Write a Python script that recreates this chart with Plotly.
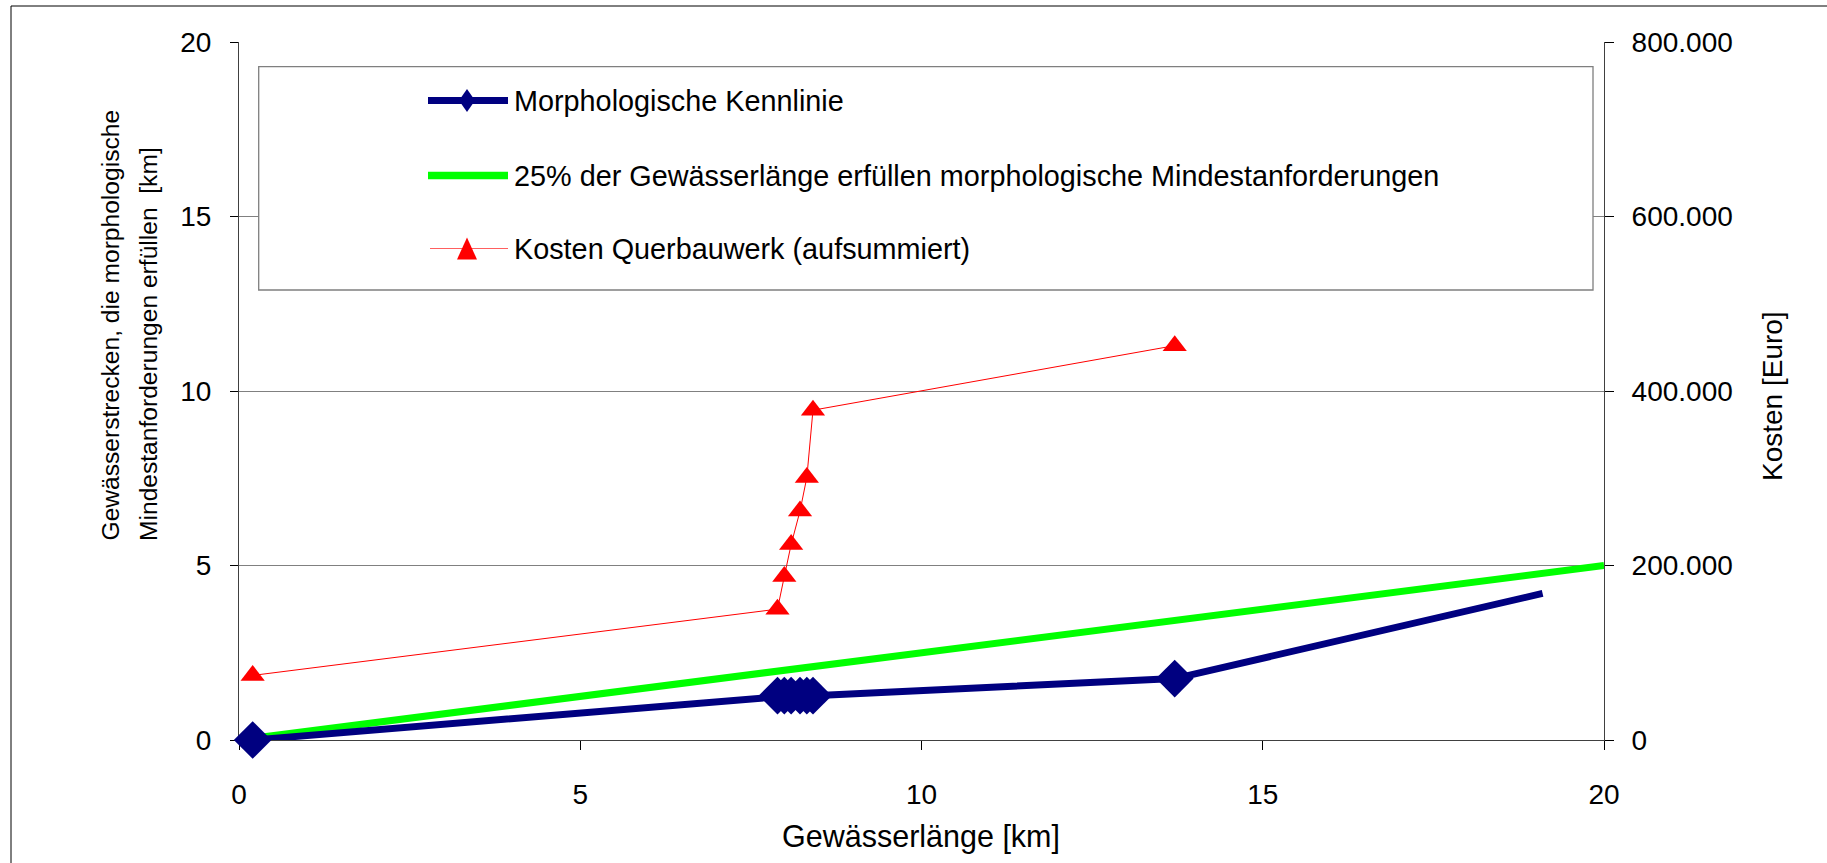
import plotly.graph_objects as go

# Figure geometry (pixels)
W, H = 1827, 863
ML, MR, MT, MB = 239, 223, 42, 123
PW = W - ML - MR
PH = H - MT - MB


def px(x):
    """pixel column -> paper x"""
    return (x - ML) / PW


def py(y):
    """pixel row -> paper y"""
    return (H - MB - y) / PH


# ---- data ----
laenge_km = [0.2, 7.89, 7.99, 8.09, 8.22, 8.32, 8.41, 13.71, 19.1]
kennlinie_km = [0.0, 1.27, 1.27, 1.27, 1.27, 1.27, 1.27, 1.76, 4.2]

ziel_laenge_km = [0.2, 20.0]
ziel_km = [0.05, 5.0]

kosten_laenge_km = [0.2, 7.89, 7.99, 8.09, 8.22, 8.32, 8.41, 13.71]
kosten_euro = [74000, 150000, 187500, 224000, 262500, 301000, 378000, 452000]

x_ticks = [0, 5, 10, 15, 20]
y_ticks = [0, 5, 10, 15, 20]
kosten_ticks = [0, 200000, 400000, 600000, 800000]
kosten_tick_labels = ["0", "200.000", "400.000", "600.000", "800.000"]

series_names = [
    "Morphologische Kennlinie",
    "25% der Gewässerlänge erfüllen morphologische Mindestanforderungen",
    "Kosten Querbauwerk (aufsummiert)",
]

NAVY = "#000080"
GREEN = "#00FF00"
RED = "#FF0000"
FONT = "Liberation Sans, Arial, sans-serif"

fig = go.Figure()

fig.add_trace(go.Scatter(
    x=ziel_laenge_km, y=ziel_km, mode="lines", name=series_names[1],
    line=dict(color=GREEN, width=7), cliponaxis=False, showlegend=False,
))

# last point of the characteristic line carries no marker
kennlinie_sizes = [29] * (len(laenge_km) - 1) + [0]
fig.add_trace(go.Scatter(
    x=laenge_km, y=kennlinie_km, mode="lines+markers", name=series_names[0],
    line=dict(color=NAVY, width=7),
    marker=dict(symbol="diamond", size=kennlinie_sizes, color=NAVY, opacity=1,
                line=dict(width=0, color=NAVY)),
    cliponaxis=False, showlegend=False,
))

fig.add_trace(go.Scatter(
    x=kosten_laenge_km, y=kosten_euro, mode="lines+markers", name=series_names[2],
    yaxis="y2", line=dict(color=RED, width=1),
    marker=dict(symbol="triangle-up", size=21, color=RED, opacity=1,
                line=dict(width=0, color=RED)),
    cliponaxis=False, showlegend=False,
))

axis_common = dict(
    ticks="outside", tickcolor="#000000", tickwidth=1,
    showline=True, linecolor="#404040", linewidth=1,
    zeroline=False, layer="below traces",
    tickfont=dict(family=FONT, size=28, color="#000000"),
)

fig.update_layout(
    width=W, height=H,
    margin=dict(l=ML, r=MR, t=MT, b=MB, pad=0),
    paper_bgcolor="white", plot_bgcolor="white",
    font=dict(family=FONT, color="#000000"),
    xaxis=dict(range=[0, 20], tickvals=x_ticks, ticklen=9, showgrid=False,
               ticklabelstandoff=20, **axis_common),
    yaxis=dict(range=[0, 20], tickvals=y_ticks, ticklen=8, showgrid=True,
               gridcolor="#808080", gridwidth=1, ticklabelstandoff=13,
               **axis_common),
    yaxis2=dict(range=[0, 800000], tickvals=kosten_ticks, ticktext=kosten_tick_labels,
                overlaying="y", side="right", ticklen=9, showgrid=False,
                ticklabelstandoff=12, **axis_common),
    showlegend=False,
)

shapes = []
# outer chart frame
shapes.append(dict(type="rect", xref="paper", yref="paper",
                   x0=px(11), y0=py(6), x1=px(1860), y1=py(900),
                   line=dict(color="#000000", width=1), fillcolor="rgba(0,0,0,0)",
                   layer="above"))
# legend box
shapes.append(dict(type="rect", xref="paper", yref="paper",
                   x0=px(258.7), y0=py(66.7), x1=px(1593), y1=py(290),
                   line=dict(color="#7f7f7f", width=1.3), fillcolor="white",
                   layer="above"))

legend_rows = [100.5, 175.5, 248.5]
line_x0, line_x1, mark_x = 428, 508, 467
# legend samples
shapes.append(dict(type="line", xref="paper", yref="paper",
                   x0=px(line_x0), x1=px(line_x1), y0=py(legend_rows[0]), y1=py(legend_rows[0]),
                   line=dict(color=NAVY, width=7), layer="above"))
shapes.append(dict(type="path", xref="paper", yref="paper",
                   xsizemode="pixel", ysizemode="pixel",
                   xanchor=px(mark_x), yanchor=py(legend_rows[0]),
                   path="M -8,0 L 0,11.5 L 8,0 L 0,-11.5 Z",
                   fillcolor=NAVY, line=dict(color=NAVY, width=0), layer="above"))
shapes.append(dict(type="line", xref="paper", yref="paper",
                   x0=px(line_x0), x1=px(line_x1), y0=py(legend_rows[1]), y1=py(legend_rows[1]),
                   line=dict(color=GREEN, width=7.5), layer="above"))
shapes.append(dict(type="line", xref="paper", yref="paper",
                   x0=px(line_x0 + 2), x1=px(line_x1), y0=py(legend_rows[2]), y1=py(legend_rows[2]),
                   line=dict(color="#FF6060", width=1), layer="above"))
shapes.append(dict(type="path", xref="paper", yref="paper",
                   xsizemode="pixel", ysizemode="pixel",
                   xanchor=px(mark_x), yanchor=py(legend_rows[2]),
                   path="M -10,-11 L 10,-11 L 0,11 Z",
                   fillcolor=RED, line=dict(color=RED, width=0), layer="above"))
fig.update_layout(shapes=shapes)

annotations = []
for name, row in zip(series_names, legend_rows):
    annotations.append(dict(text=name, xref="paper", yref="paper",
                            x=px(512), y=py(row), xanchor="left", yanchor="middle",
                            showarrow=False, font=dict(family=FONT, size=28.8, color="#000000")))

# axis titles
annotations.append(dict(text="Gewässerlänge [km]", xref="paper", yref="paper",
                        x=px(921), y=py(836), xanchor="center", yanchor="middle",
                        showarrow=False, font=dict(family=FONT, size=30.5, color="#000000")))
annotations.append(dict(text="Gewässerstrecken, die morphologische", xref="paper", yref="paper",
                        x=px(110), y=py(543), xanchor="center", yanchor="bottom",
                        textangle=-90, showarrow=False,
                        font=dict(family=FONT, size=24.6, color="#000000")))
annotations.append(dict(text="Mindestanforderungen erfüllen  [km]", xref="paper", yref="paper",
                        x=px(148), y=py(543), xanchor="center", yanchor="bottom",
                        textangle=-90, showarrow=False,
                        font=dict(family=FONT, size=24.6, color="#000000")))
annotations.append(dict(text="Kosten [Euro]", xref="paper", yref="paper",
                        x=px(1772), y=py(396), xanchor="center", yanchor="middle",
                        textangle=-90, showarrow=False,
                        font=dict(family=FONT, size=28, color="#000000")))
fig.update_layout(annotations=annotations)

fig.write_html("out.html")
